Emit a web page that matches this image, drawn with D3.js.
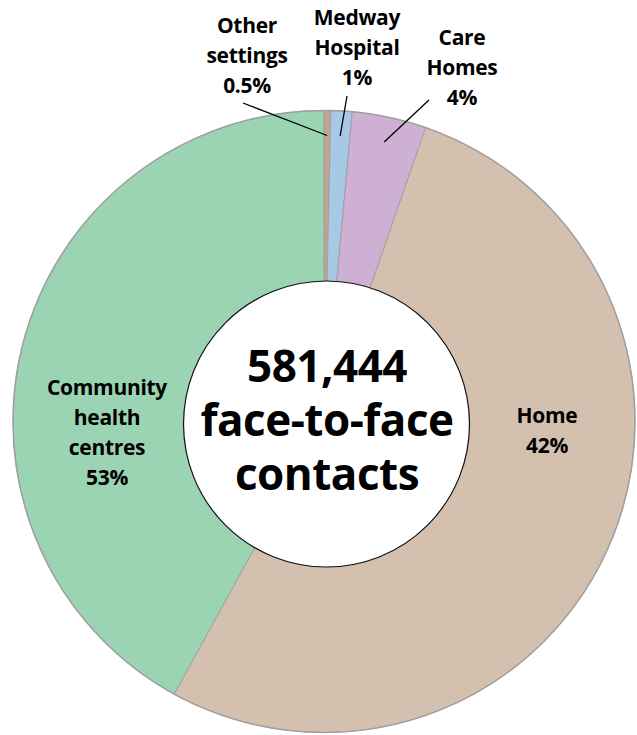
<!DOCTYPE html>
<html>
<head>
<meta charset="utf-8">
<script src="https://cdn.jsdelivr.net/npm/d3@7"></script>
<style>
    html, body { margin: 0; padding: 0; background: #fff; }
    svg text { font-family: "Open Sans", "DejaVu Sans", sans-serif; font-weight: 700; fill: #000; }
</style>
</head>
<body>
<svg id="chart"></svg>
<script>
// settings, clockwise from 12 o'clock
var categories = ['Other settings', 'Medway Hospital', 'Care Homes', 'Home', 'Community health centres'];
var shares = [0.35, 1.1, 3.85, 52.7, 42.0];          // slice sizes as drawn
var shareLabels = ['0.5%', '1%', '4%', '42%', '53%'];  // percentages as printed
var labelLines = [
    ['Other', 'settings'],
    ['Medway', 'Hospital'],
    ['Care', 'Homes'],
    ['Home'],
    ['Community', 'health', 'centres']
];
var totalText = ['581,444', 'face-to-face', 'contacts'];

var colors = ['#c3a590', '#a7c9e6', '#cdb0d3', '#d3c0af', '#9ad4b2'];

var width = 637;
var height = 735;
var cx = 324, cy = 421.5;
var outerR = 311;
var holeR = 143;
var leaderR = 286;

// label placement: [x, y of first baseline, leader start or null]
var labelPos = [
    { x: 247, y: 33, lead: [243, 103] },
    { x: 357, y: 25, lead: [347, 96] },
    { x: 462, y: 45, lead: [429, 100] },
    { x: 547, y: 423, lead: null },
    { x: 107, y: 395, lead: null }
];

var svg = d3.select('#chart')
    .attr('width', width)
    .attr('height', height);

var pie = d3.pie().sort(null).value(function (d) { return d; });
var arcs = pie(shares);

var arc = d3.arc().innerRadius(0).outerRadius(outerR);
var g = svg.append('g').attr('transform', 'translate(' + cx + ',' + cy + ')');

g.selectAll('path.slice')
    .data(arcs)
    .enter()
    .append('path')
    .attr('class', 'slice')
    .attr('d', arc)
    .attr('fill', function (d, i) { return colors[i]; })
    .attr('stroke', '#9a9a9a')
    .attr('stroke-width', 0.8);

g.append('circle')
    .attr('r', outerR)
    .attr('fill', 'none')
    .attr('stroke', '#a0a0a0')
    .attr('stroke-width', 1.5);

// white hole, slightly off centre like the original
svg.append('circle')
    .attr('cx', cx + 2.5)
    .attr('cy', cy + 2.5)
    .attr('r', holeR)
    .attr('fill', '#fff')
    .attr('stroke', '#111')
    .attr('stroke-width', 1.2);

// leader lines for the small slices
var leadArc = d3.arc().innerRadius(leaderR).outerRadius(leaderR);
arcs.forEach(function (d, i) {
    var p = labelPos[i];
    if (!p.lead) return;
    var c = leadArc.centroid(d);
    svg.append('line')
        .attr('x1', p.lead[0])
        .attr('y1', p.lead[1])
        .attr('x2', cx + c[0])
        .attr('y2', cy + c[1])
        .attr('stroke', '#000')
        .attr('stroke-width', 1.3);
});

// category labels
var lineH = 30;
categories.forEach(function (name, i) {
    var p = labelPos[i];
    var lines = labelLines[i].concat([shareLabels[i]]);
    var t = svg.append('text')
        .attr('text-anchor', 'middle')
        .attr('font-size', 21)
        .attr('letter-spacing', -0.3);
    lines.forEach(function (s, j) {
        t.append('tspan')
            .attr('x', p.x)
            .attr('y', p.y + j * lineH)
            .text(s);
    });
});

// total in the centre
var tc = svg.append('text')
    .attr('text-anchor', 'middle')
    .attr('font-size', 44)
    .attr('letter-spacing', -0.5);
totalText.forEach(function (s, j) {
    tc.append('tspan')
        .attr('x', cx + 3)
        .attr('y', 382 + j * 54)
        .text(s);
});
</script>
</body>
</html>
